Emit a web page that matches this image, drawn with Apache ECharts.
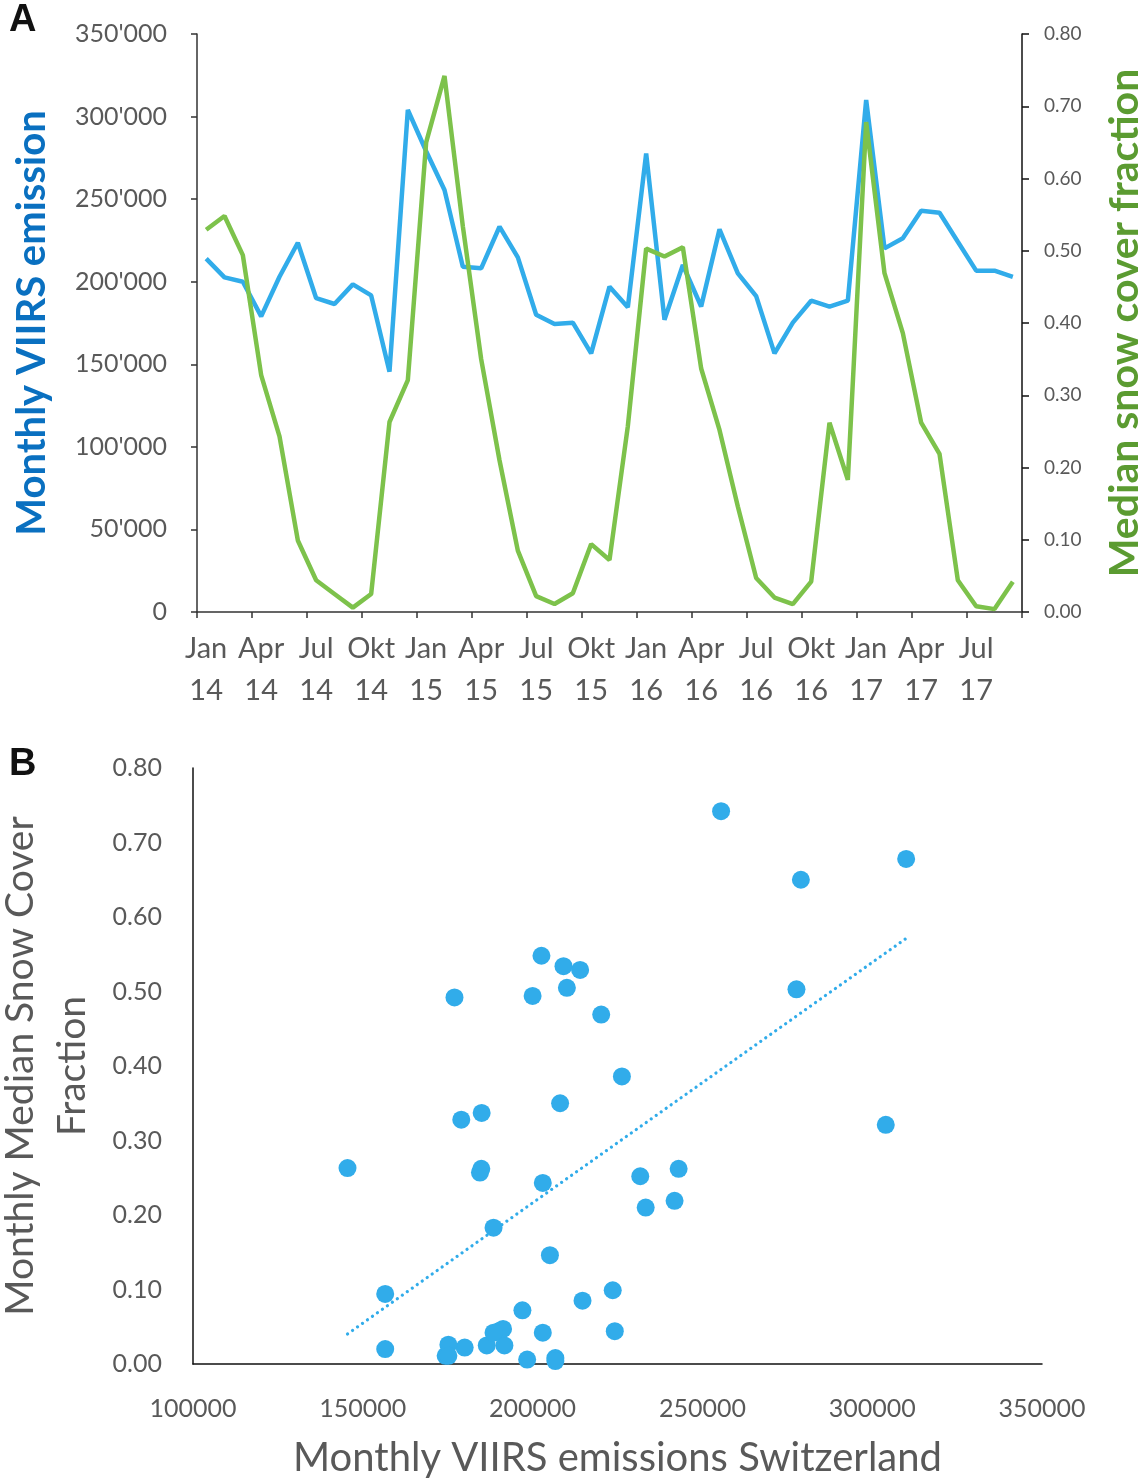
<!DOCTYPE html>
<html>
<head>
<meta charset="utf-8">
<script src="https://cdn.jsdelivr.net/npm/echarts@6/dist/echarts.min.js"></script>
<style>html,body{margin:0;padding:0;background:#fff}#c{width:1145px;height:1480px}</style>
</head>
<body>
<div id="c"></div>
<script>
// ---- data ----
const categories = [
 'Jan 14','Feb 14','Mär 14','Apr 14','Mai 14','Jun 14','Jul 14','Aug 14','Sep 14','Okt 14','Nov 14','Dez 14',
 'Jan 15','Feb 15','Mär 15','Apr 15','Mai 15','Jun 15','Jul 15','Aug 15','Sep 15','Okt 15','Nov 15','Dez 15',
 'Jan 16','Feb 16','Mär 16','Apr 16','Mai 16','Jun 16','Jul 16','Aug 16','Sep 16','Okt 16','Nov 16','Dez 16',
 'Jan 17','Feb 17','Mär 17','Apr 17','Mai 17','Jun 17','Jul 17','Aug 17','Sep 17'
];
const emission = [214000,202600,200000,179000,203000,223600,190000,186500,198400,191700,145500,304000,
 279000,255500,209100,208100,233300,214700,180000,174400,175200,156600,197000,184500,
 277700,177000,210100,185000,231700,205100,191300,156600,175200,188500,184900,188500,
 310000,220200,226300,243000,241800,224200,206700,206700,203000];
const snow = [0.529,0.548,0.494,0.328,0.243,0.099,0.044,0.025,0.006,0.025,0.263,0.321,
 0.650,0.742,0.534,0.350,0.210,0.085,0.022,0.011,0.026,0.094,0.072,0.257,
 0.503,0.492,0.505,0.337,0.252,0.146,0.047,0.020,0.011,0.042,0.262,0.183,
 0.678,0.469,0.386,0.262,0.219,0.044,0.008,0.004,0.042];
const leftTicks = {min:0, max:350000, interval:50000};
const rightTicks = {min:0, max:0.8, interval:0.1};
const scatterXTicks = {min:100000, max:350000, interval:50000};

// ---- derived ----
const pairs = emission.map((e,i)=>[e, snow[i]]);
const n = pairs.length;
const mx = emission.reduce((a,b)=>a+b,0)/n;
const my = snow.reduce((a,b)=>a+b,0)/n;
let sxy=0, sxx=0;
for (let i=0;i<n;i++){ sxy+=(emission[i]-mx)*(snow[i]-my); sxx+=(emission[i]-mx)**2; }
const slope = sxy/sxx, icpt = my - slope*mx;
const xmin = Math.min(...emission), xmax = Math.max(...emission);
const trend = [[xmin, icpt+slope*xmin],[xmax, icpt+slope*xmax]];

const BLUE = '#31ACEA', GREEN = '#7DC24B', GRAY = '#595959';
const FONT = 'Lato, "Open Sans", sans-serif';

const chart = echarts.init(document.getElementById('c'));
chart.setOption({
  animation:false,
  backgroundColor:'#fff',
  textStyle:{fontFamily:FONT},
  graphic:[
    {type:'text', left:9, top:2, style:{text:'A', font:'bold 38px "Liberation Sans", Arial, sans-serif', fill:'#111'}},
    {type:'text', left:9, top:746, style:{text:'B', font:'bold 38px "Liberation Sans", Arial, sans-serif', fill:'#111'}}
  ],
  grid:[
    {left:197, top:34, width:825, height:578, containLabel:false, outerBoundsMode:'none'},
    {left:193, top:768, width:849, height:596, containLabel:false, outerBoundsMode:'none'}
  ],
  xAxis:[
    {type:'category', gridIndex:0, data:categories, boundaryGap:true,
     axisLine:{lineStyle:{color:'#333', width:1.5}},
     axisTick:{show:true, interval:2, length:6, lineStyle:{color:'#333', width:1.5}},
     axisLabel:{interval:2, formatter:v=>v.replace(' ','\n'), fontSize:29, lineHeight:42, color:GRAY, margin:16, fontFamily:FONT},
     splitLine:{show:false}},
    {type:'value', gridIndex:1, min:scatterXTicks.min, max:scatterXTicks.max, interval:scatterXTicks.interval,
     axisLine:{show:true, lineStyle:{color:'#111', width:1.5}},
     axisTick:{show:false},
     axisLabel:{fontSize:25, color:GRAY, margin:32, fontFamily:FONT, formatter:v=>String(v)},
     splitLine:{show:false},
     name:'Monthly VIIRS emissions Switzerland', nameLocation:'middle', nameGap:74, nameMoveOverlap:false,
     nameTextStyle:{fontSize:40, color:GRAY, fontFamily:FONT}}
  ],
  yAxis:[
    {type:'value', gridIndex:0, position:'left', min:leftTicks.min, max:leftTicks.max, interval:leftTicks.interval,
     axisLine:{show:true, lineStyle:{color:'#333', width:1.5}},
     axisTick:{show:true, length:6, lineStyle:{color:'#333', width:1.5}},
     axisLabel:{fontSize:25, color:GRAY, margin:30, fontFamily:FONT,
       formatter:v=> v===0 ? '0' : (v/1000)+"'000"},
     splitLine:{show:false},
     name:'Monthly VIIRS emission', nameLocation:'middle', nameRotate:90, nameGap:145, nameMoveOverlap:false,
     nameTextStyle:{fontSize:40, fontWeight:'bold', color:'#0A70C0', fontFamily:FONT}},
    {type:'value', gridIndex:0, position:'right', min:rightTicks.min, max:rightTicks.max, interval:rightTicks.interval,
     axisLine:{show:true, lineStyle:{color:'#111', width:1.5}},
     axisTick:{show:true, length:7, lineStyle:{color:'#111', width:1.5}},
     axisLabel:{fontSize:19, color:GRAY, margin:22, fontFamily:FONT, formatter:v=>v.toFixed(2)},
     splitLine:{show:false},
     name:'Median snow cover fraction', nameLocation:'middle', nameRotate:90, nameGap:82, nameMoveOverlap:false,
     nameTextStyle:{fontSize:41, fontWeight:'bold', color:'#5B9B31', fontFamily:FONT}},
    {type:'value', gridIndex:1, min:rightTicks.min, max:rightTicks.max, interval:rightTicks.interval,
     axisLine:{show:true, lineStyle:{color:'#111', width:1.5}},
     axisTick:{show:false},
     axisLabel:{fontSize:25, color:GRAY, margin:31, fontFamily:FONT, formatter:v=>v.toFixed(2)},
     splitLine:{show:false},
     name:'Monthly Median Snow Cover\nFraction', nameLocation:'middle', nameRotate:90, nameGap:95, nameMoveOverlap:false,
     nameTextStyle:{fontSize:39, lineHeight:52, color:GRAY, fontFamily:FONT}}
  ],
  series:[
    {type:'line', xAxisIndex:0, yAxisIndex:0, data:emission, symbol:'none',
     lineStyle:{color:BLUE, width:4.5}, z:3},
    {type:'line', xAxisIndex:0, yAxisIndex:1, data:snow, symbol:'none',
     lineStyle:{color:GREEN, width:4.5}, z:3},
    {type:'line', xAxisIndex:1, yAxisIndex:2, data:trend, symbol:'none',
     lineStyle:{color:BLUE, width:3.2, type:[0.1,6], cap:'round'}, z:2},
    {type:'scatter', xAxisIndex:1, yAxisIndex:2, data:pairs, symbolSize:18,
     itemStyle:{color:BLUE, opacity:1}, z:4}
  ]
});
</script>
</body>
</html>
